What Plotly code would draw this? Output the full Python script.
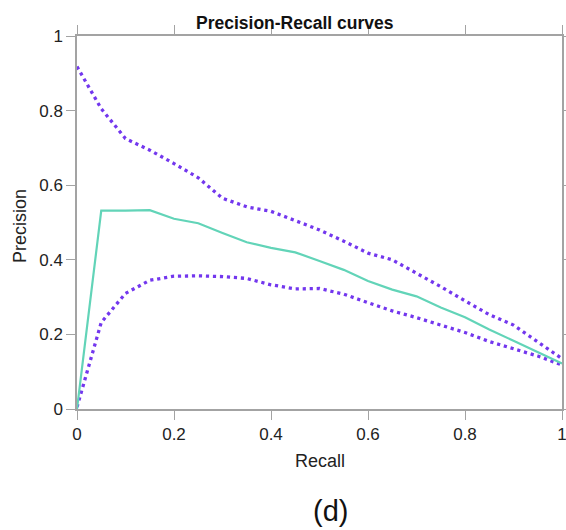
import plotly.graph_objects as go

recall = [0, 0.05, 0.1, 0.15, 0.2, 0.25, 0.3, 0.35, 0.4, 0.45, 0.5,
          0.55, 0.6, 0.65, 0.7, 0.75, 0.8, 0.85, 0.9, 0.95, 1.0]
mean_prec = [0, 0.532, 0.532, 0.533, 0.51, 0.498, 0.472, 0.447, 0.432, 0.42, 0.397,
             0.373, 0.343, 0.32, 0.302, 0.272, 0.246, 0.213, 0.183, 0.153, 0.122]
upper_prec = [0.918, 0.805, 0.725, 0.694, 0.658, 0.62, 0.565, 0.542, 0.53, 0.505, 0.48,
              0.45, 0.418, 0.4, 0.365, 0.328, 0.29, 0.253, 0.225, 0.18, 0.135]
lower_prec = [0.005, 0.232, 0.31, 0.345, 0.356, 0.357, 0.355, 0.35, 0.333, 0.322, 0.323,
              0.308, 0.285, 0.263, 0.245, 0.225, 0.205, 0.181, 0.162, 0.142, 0.118]
tick_vals = [0, 0.2, 0.4, 0.6, 0.8, 1]
tick_text = ["0", "0.2", "0.4", "0.6", "0.8", "1"]

PURPLE = "#7337ee"
GREEN = "#62d4b8"
AXIS = "#a3a3a3"
FONT = "Liberation Sans, Arial, sans-serif"

fig = go.Figure()
fig.add_trace(go.Scatter(x=recall, y=upper_prec, mode="lines",
                         line=dict(color=PURPLE, width=3.3, dash="3.2px,3.8px"),
                         showlegend=False))
fig.add_trace(go.Scatter(x=recall, y=lower_prec, mode="lines",
                         line=dict(color=PURPLE, width=3.3, dash="3.2px,3.8px"),
                         showlegend=False))
fig.add_trace(go.Scatter(x=recall, y=mean_prec, mode="lines",
                         line=dict(color=GREEN, width=2.2),
                         showlegend=False))

axis_common = dict(
    showgrid=False, zeroline=False, showline=True, linecolor=AXIS, linewidth=1.5,
    mirror="ticks", ticks="outside", ticklen=9, tickwidth=1.2, tickcolor=AXIS,
    tickvals=tick_vals, ticktext=tick_text, automargin=False, ticklabeloverflow="allow",
    tickfont=dict(family=FONT, size=17, color="#222222"),
)

fig.update_layout(
    width=566, height=530,
    margin=dict(l=77, r=4, t=36, b=121),
    paper_bgcolor="white", plot_bgcolor="white",
    xaxis=dict(range=[0, 1], **axis_common),
    yaxis=dict(range=[0, 1], **axis_common),
    annotations=[
        dict(text="<b>Precision-Recall curves</b>", x=0.4495, y=1.035, xref="paper", yref="paper",
             showarrow=False, font=dict(family=FONT, size=17.5, color="#111111"),
             xanchor="center", yanchor="middle"),
        dict(text="Recall", x=0.5, y=-0.139, xref="paper", yref="paper",
             showarrow=False, font=dict(family=FONT, size=18, color="#222222"),
             xanchor="center", yanchor="middle"),
        dict(text="Precision", x=-0.118, y=0.49, xref="paper", yref="paper",
             showarrow=False, textangle=-90, font=dict(family=FONT, size=18, color="#222222"),
             xanchor="center", yanchor="middle"),
        dict(text="(d)", x=0.522, y=-0.274, xref="paper", yref="paper",
             showarrow=False, font=dict(family=FONT, size=29, color="#111111"),
             xanchor="center", yanchor="middle"),
    ],
)

fig.write_html(
    "out.html",
    config={"displayModeBar": False},
    post_script="document.body.style.margin='0';document.body.style.overflow='hidden';",
)
